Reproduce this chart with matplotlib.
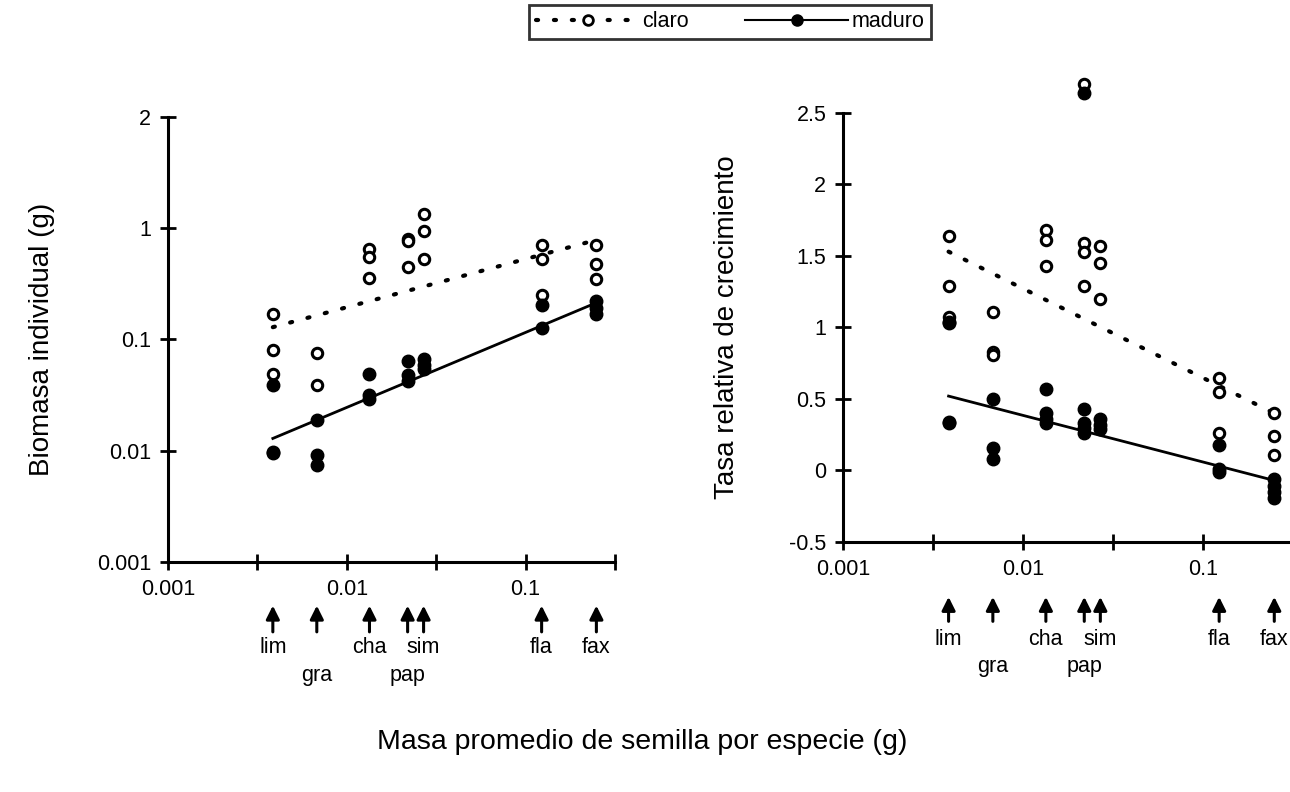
import matplotlib
matplotlib.use("Agg")
import matplotlib.pyplot as plt
from matplotlib.lines import Line2D
from matplotlib.ticker import NullLocator, FixedLocator, FixedFormatter

plt.rcParams['font.family'] = ['Liberation Sans', 'DejaVu Sans']

# especies y masa de semilla (g)
especies = ["lim", "gra", "cha", "pap", "sim", "fla", "fax"]
masa = [0.00386, 0.0068, 0.0134, 0.0219, 0.0269, 0.123, 0.249]
fila = [0, 1, 0, 1, 0, 0, 0]

# biomasa individual (g)
bio_claro = [
    [0.168, 0.080, 0.049],
    [0.076, 0.039],
    [0.65, 0.55, 0.36],
    [0.80, 0.77, 0.45],
    [1.33, 0.95, 0.53],
    [0.70, 0.53, 0.25],
    [0.70, 0.48, 0.35],
]
bio_maduro = [
    [0.0387, 0.0095, 0.0098],
    [0.019, 0.0091, 0.0075],
    [0.049, 0.032, 0.029],
    [0.064, 0.048, 0.042],
    [0.067, 0.059, 0.054],
    [0.204, 0.127],
    [0.222, 0.19, 0.168],
]
bio_fit_claro = [0.129, 0.785]
bio_fit_maduro = [0.0129, 0.214]

# tasa relativa de crecimiento
trc_claro = [
    [1.64, 1.29, 1.07],
    [1.11, 0.83, 0.81],
    [1.68, 1.61, 1.43],
    [2.70, 1.59, 1.53, 1.29],
    [1.57, 1.45, 1.20],
    [0.65, 0.55, 0.26],
    [0.40, 0.24, 0.11],
]
trc_maduro = [
    [1.04, 1.03, 0.34, 0.33],
    [0.50, 0.16, 0.08],
    [0.57, 0.40, 0.36, 0.33],
    [2.64, 0.43, 0.33, 0.30, 0.26],
    [0.36, 0.32, 0.29],
    [0.18, 0.01, -0.01],
    [-0.06, -0.11, -0.15, -0.19],
]
trc_fit_claro = [1.53, 0.40]
trc_fit_maduro = [0.52, -0.07]

fig = plt.figure(figsize=(12.9, 7.92), dpi=100)
ax1 = fig.add_axes([0.1302, 0.2904, 0.3465, 0.5619])
ax2 = fig.add_axes([0.6535, 0.3157, 0.3488, 0.5417])

punteado = (0, (0.5, 3.8))
def dibujar(ax, claro, maduro, fit_c, fit_m):
    for x, ys in zip(masa, claro):
        ax.plot([x] * len(ys), ys, 'o', ms=7.5, mfc='white', mec='black', mew=2.2,
                clip_on=False, zorder=3)
    for x, ys in zip(masa, maduro):
        ax.plot([x] * len(ys), ys, 'o', ms=9, mfc='black', mec='black',
                clip_on=False, zorder=4)
    xf = [masa[0], masa[-1]]
    ax.plot(xf, fit_c, color='black', lw=3, ls=punteado,
            dash_capstyle='round', zorder=2)
    ax.plot(xf, fit_m, color='black', lw=2, zorder=2)
    ax.set_xscale('log')
    ax.set_xlim(0.001, 10 ** -0.5)
    ax.xaxis.set_major_locator(FixedLocator([0.001, 10 ** -2.5, 0.01, 10 ** -1.5, 0.1, 10 ** -0.5]))
    ax.xaxis.set_major_formatter(FixedFormatter(["0.001", "", "0.01", "", "0.1", ""]))
    ax.xaxis.set_minor_locator(NullLocator())
    for s in ['top', 'right']:
        ax.spines[s].set_visible(False)
    for s in ['left', 'bottom']:
        ax.spines[s].set_linewidth(2.2)
    ax.tick_params(direction='inout', length=12, width=2, labelsize=15.5, pad=6)

dibujar(ax1, bio_claro, bio_maduro, bio_fit_claro, bio_fit_maduro)
ax1.set_yscale('log')
ax1.set_ylim(0.001, 10)
ax1.yaxis.set_major_locator(FixedLocator([0.001, 0.01, 0.1, 1, 10]))
ax1.yaxis.set_major_formatter(FixedFormatter(["0.001", "0.01", "0.1", "1", "2"]))
ax1.yaxis.set_minor_locator(NullLocator())
ax1.set_ylabel("Biomasa individual (g)", fontsize=20, labelpad=30)

dibujar(ax2, trc_claro, trc_maduro, trc_fit_claro, trc_fit_maduro)
ax2.set_ylim(-0.5, 2.5)
ax2.set_yticks([-0.5, 0, 0.5, 1, 1.5, 2, 2.5])
ax2.set_yticklabels(["-0.5", "0", "0.5", "1", "1.5", "2", "2.5"])
ax2.set_ylabel("Tasa relativa de crecimiento", fontsize=20, labelpad=35)

# flechas con nombres de especies
def flechas(ax, y_punta, y_base, y_fila1, y_fila2):
    for x, nombre, f in zip(masa, especies, fila):
        ax.annotate("", xy=(x, y_punta), xytext=(x, y_base),
                    xycoords=('data', 'axes fraction'), textcoords=('data', 'axes fraction'),
                    arrowprops=dict(arrowstyle='-|>,head_length=0.8,head_width=0.4',
                                    color='black', lw=2.2, shrinkA=0, shrinkB=0),
                    annotation_clip=False)
        ax.text(x, y_fila1 if f == 0 else y_fila2, nombre, ha='center', va='center',
                fontsize=15.5, transform=ax.get_xaxis_transform())

flechas(ax1, -0.098, -0.157, -0.193, -0.254)
flechas(ax2, -0.128, -0.185, -0.228, -0.291)

fig.text(0.498, 0.063, "Masa promedio de semilla por especie (g)", ha='center',
         va='center', fontsize=20.5)

h_claro = Line2D([], [], color='black', lw=3, ls=punteado, dash_capstyle='round',
                 marker='o', ms=7, mfc='white', mec='black', mew=2)
h_maduro = Line2D([], [], color='black', lw=1.5, marker='o', ms=8, mfc='black', mec='black')
leg = fig.legend([h_claro, h_maduro], ["claro", "maduro"], ncol=2, loc='upper center',
                 bbox_to_anchor=(0.566, 0.994), borderaxespad=0, fontsize=15.5,
                 frameon=True, fancybox=False, edgecolor='black', handlelength=4.8,
                 columnspacing=2.6, borderpad=0.3, handletextpad=0.15)
leg.get_frame().set_linewidth(2)

fig.savefig("out.png", dpi=100)
